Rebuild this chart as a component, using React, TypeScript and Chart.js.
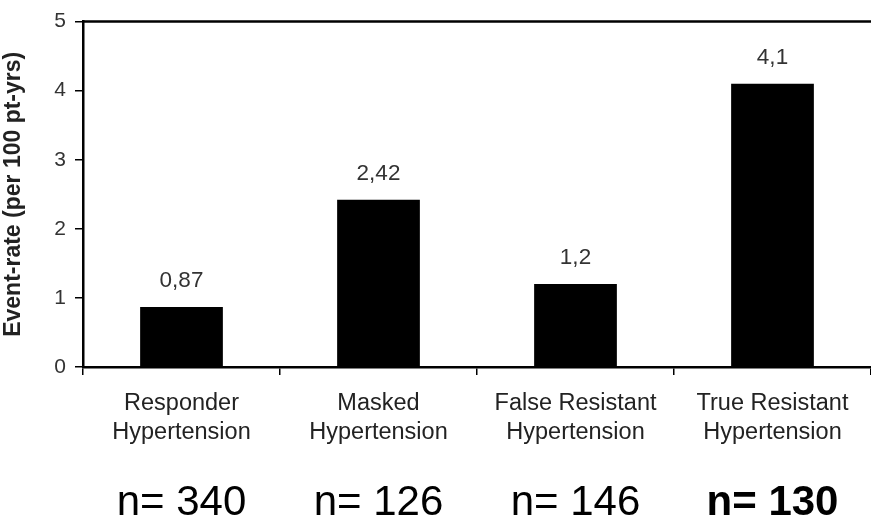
import React, { useEffect, useRef } from "react";
import { Chart, registerables } from "chart.js";

Chart.register(...registerables);

const categories: string[][] = [
  ["Responder", "Hypertension"],
  ["Masked", "Hypertension"],
  ["False Resistant", "Hypertension"],
  ["True Resistant", "Hypertension"],
];
const eventRates = [0.87, 2.42, 1.2, 4.1];
const valueLabels = ["0,87", "2,42", "1,2", "4,1"];
const sampleSizes = ["n= 340", "n= 126", "n= 146", "n= 130"];
const sampleBold = [false, false, false, true];
const yMin = 0;
const yMax = 5;
const yStep = 1;
const yTitle = "Event-rate (per 100 pt-yrs)";

const FONT = "'Liberation Sans', Arial, sans-serif";

const annotations = {
  id: "annotations",
  afterDatasetsDraw(chart: any) {
    const { ctx, chartArea } = chart;
    const meta = chart.getDatasetMeta(0);
    const xScale = chart.scales.x;
    ctx.save();
    // top frame line
    ctx.strokeStyle = "#000";
    ctx.lineWidth = 2.5;
    ctx.beginPath();
    ctx.moveTo(chartArea.left, chartArea.top);
    ctx.lineTo(chart.width, chartArea.top);
    ctx.stroke();
    // value labels
    ctx.fillStyle = "#333";
    ctx.font = `22.5px ${FONT}`;
    ctx.textAlign = "center";
    ctx.textBaseline = "middle";
    meta.data.forEach((bar: any, i: number) => {
      ctx.fillText(valueLabels[i], bar.x, bar.y - 26);
    });
    // sample sizes
    ctx.fillStyle = "#000";
    sampleSizes.forEach((s, i) => {
      ctx.font = `${sampleBold[i] ? "bold " : ""}42px ${FONT}`;
      ctx.fillText(s, xScale.getPixelForValue(i), chart.height - 19);
    });
    ctx.restore();
  },
};

export default function App() {
  const ref = useRef<HTMLCanvasElement>(null);
  useEffect(() => {
    if (!ref.current) return;
    const chart = new Chart(ref.current, {
      type: "bar",
      data: {
        labels: categories,
        datasets: [
          {
            data: eventRates,
            backgroundColor: "#000",
            borderWidth: 0,
            categoryPercentage: 1,
            barPercentage: 0.42,
          },
        ],
      },
      options: {
        animation: false,
        responsive: false,
        layout: { padding: { top: 19, right: 0, left: 0, bottom: 0 } },
        plugins: {
          legend: { display: false },
          tooltip: { enabled: false },
          title: { display: false },
        },
        scales: {
          x: {
            afterFit: (s: any) => {
              s.height = 155;
            },
            grid: {
              display: true,
              offset: true,
              drawOnChartArea: false,
              drawTicks: true,
              tickLength: 8,
              color: "#000",
              lineWidth: 1.5,
            },
            border: { display: true, color: "#000", width: 2.5 },
            ticks: {
              color: "#222",
              font: { family: FONT, size: 23.5, lineHeight: 1.24 },
              padding: 14,
              maxRotation: 0,
              autoSkip: false,
            },
          },
          y: {
            min: yMin,
            max: yMax,
            afterFit: (s: any) => {
              s.width = 83;
            },
            grid: {
              display: true,
              drawOnChartArea: false,
              drawTicks: true,
              tickLength: 8,
              color: "#000",
              lineWidth: 1.5,
            },
            border: { display: true, color: "#000", width: 2.5 },
            ticks: {
              stepSize: yStep,
              color: "#333",
              font: { family: FONT, size: 21 },
              padding: 9,
            },
            title: {
              display: true,
              text: yTitle,
              color: "#222",
              font: { family: FONT, size: 23, weight: "bold" },
              padding: { top: 0, bottom: 0 },
            },
          },
        },
      },
      plugins: [annotations],
    });
    return () => chart.destroy();
  }, []);
  return (
    <div style={{ position: "absolute", left: 0, top: 0, width: 871, height: 522 }}>
      <canvas ref={ref} width={871} height={522} />
    </div>
  );
}
